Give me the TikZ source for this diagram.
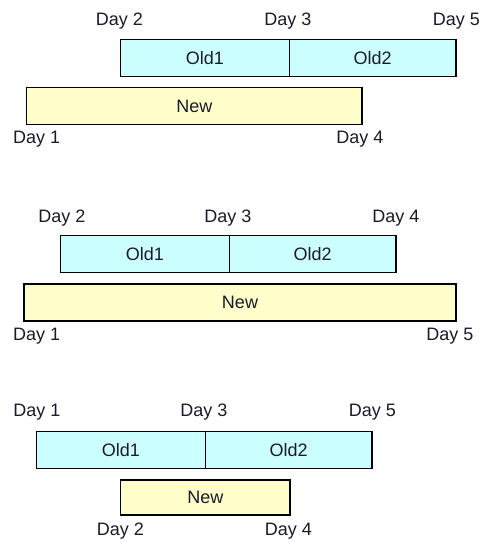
\documentclass[tikz,border=0pt]{standalone}
\usepackage{fontspec}
\setmainfont{Liberation Sans}
\definecolor{oldfill}{HTML}{CCFFFF}
\definecolor{newfill}{HTML}{FFFFCC}
\definecolor{txt}{HTML}{1A1A2A}
\begin{document}
\begin{tikzpicture}[x=1pt,y=-1pt,
  box/.style={draw=black, line width=1.3pt, inner sep=0pt, outer sep=0pt,
    minimum height=37pt, font=\fontsize{18}{20}\selectfont, text=txt},
  oldbox/.style={box, fill=oldfill},
  newbox/.style={box, fill=newfill},
  day/.style={inner sep=0pt, font=\fontsize{18}{20}\selectfont, text=txt}]
\useasboundingbox (0,0) rectangle (484,544);
% Panel 1
\node[oldbox, minimum width=168.6pt] (a1) at (205,57.7) {Old1};
\node[oldbox, minimum width=166.7pt] (a2) at (372.65,57.7) {Old2};
\node[newbox, minimum width=335.3pt] (an) at (194.35,106) {New};
\node[day] (ad2) at (119.5,20.7) {Day 2};
\node[day] (ad3) at (288,20.7) {Day 3};
\node[day] (ad5) at (456.5,20.7) {Day 5};
\node[day] (ad1) at (36.7,139) {Day 1};
\node[day] (ad4) at (360,139) {Day 4};
% Panel 2
\node[oldbox, minimum width=168.6pt] (b1) at (145,254.2) {Old1};
\node[oldbox, minimum width=166.7pt] (b2) at (312.65,254.2) {Old2};
\node[newbox, minimum width=432pt] (bn) at (240,302.5) {New};
\node[day] (bd2) at (62,217.7) {Day 2};
\node[day] (bd3) at (228,217.7) {Day 3};
\node[day] (bd4) at (396,217.7) {Day 4};
\node[day] (bd1) at (36.7,335.7) {Day 1};
\node[day] (bd5) at (450,335.7) {Day 5};
% Panel 3
\node[oldbox, minimum width=168.6pt] (c1) at (121,450.2) {Old1};
\node[oldbox, minimum width=166.7pt] (c2) at (288.65,450.2) {Old2};
\node[newbox, minimum width=169.3pt, minimum height=35pt] (cn) at (205.35,497.5) {New};
\node[day] (cd1) at (37,411.7) {Day 1};
\node[day] (cd3) at (204,411.7) {Day 3};
\node[day] (cd5) at (372.5,411.7) {Day 5};
\node[day] (cd2) at (120.5,530.7) {Day 2};
\node[day] (cd4) at (288.5,530.7) {Day 4};
\end{tikzpicture}
\end{document}
